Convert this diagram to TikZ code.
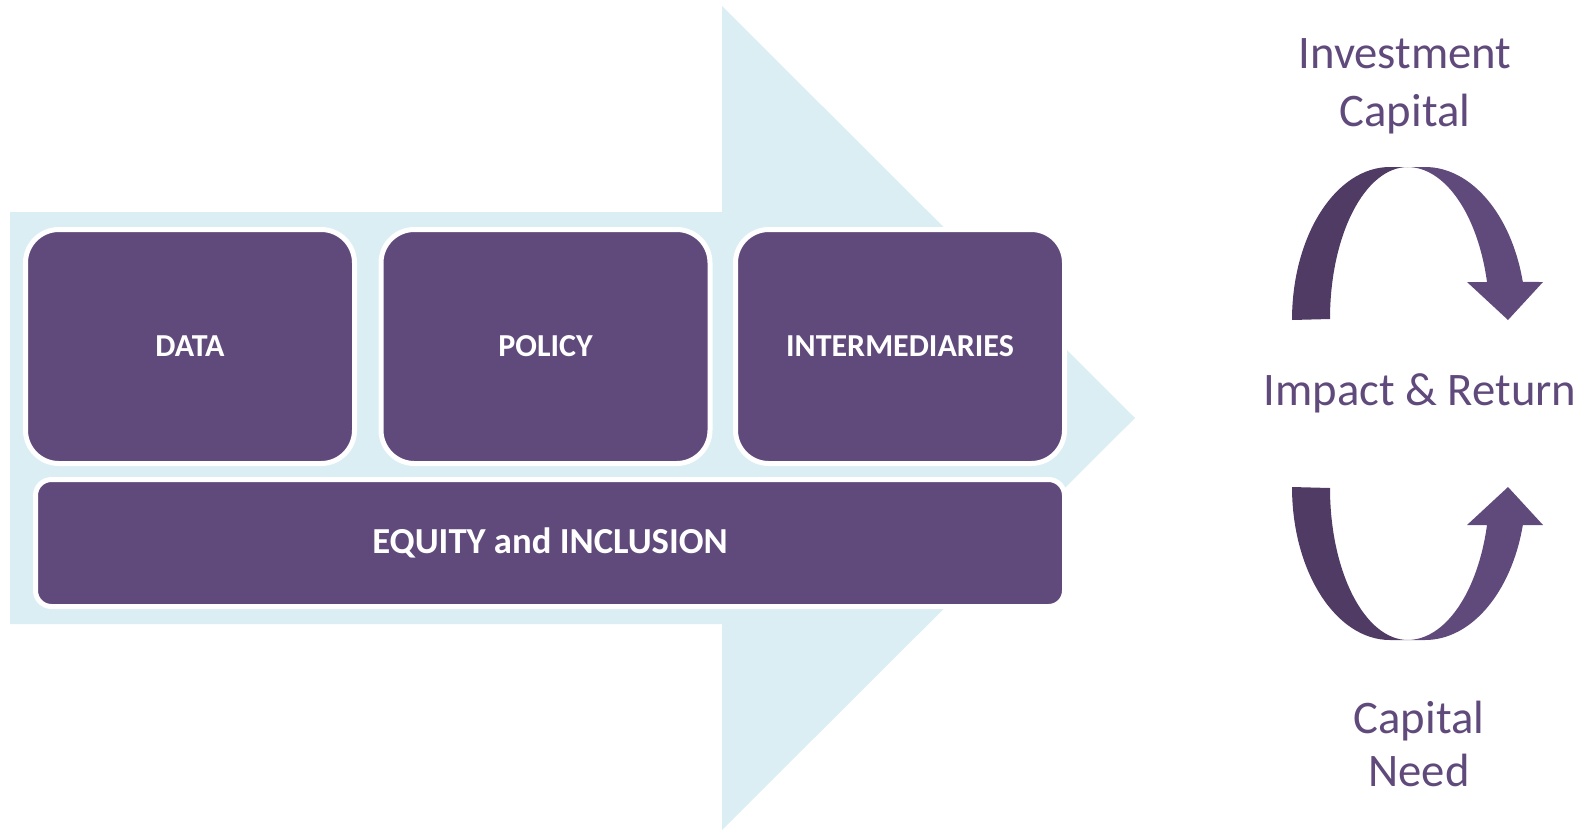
\documentclass[tikz,border=0pt]{standalone}
\usepackage{fontspec}
\setmainfont{Carlito}
\definecolor{lightaqua}{HTML}{DBEEF4}
\definecolor{purp}{HTML}{604A7B}
\definecolor{darkpurp}{HTML}{4F3B64}
\tikzset{
  blockbox/.style={draw=white, line width=3.75pt, fill=purp, rounded corners=25pt,
    text=white, font=\fontsize{24}{29}\selectfont\bfseries, inner sep=0pt},
  widebox/.style={blockbox, rounded corners=12pt, font=\fontsize{27.5}{33}\selectfont\bfseries},
  sidetext/.style={text=purp, font=\fontsize{35}{42}\selectfont, anchor=base, inner sep=0pt},
}
\begin{document}
\begin{tikzpicture}[x=0.75pt, y=-0.75pt]
\useasboundingbox (0,0) rectangle (1591,829);
% big background arrow
\fill[lightaqua] (10,212) -- (722,212) -- (722,6) -- (1135,418) -- (722,830) -- (722,624) -- (10,624) -- cycle;
% blocks
\node[blockbox, minimum width=246.75pt, minimum height=175.5pt] (data) at (190,346.5) {DATA};
\node[blockbox, minimum width=246.75pt, minimum height=175.5pt] (policy) at (545.5,346.5) {POLICY};
\node[blockbox, minimum width=246.75pt, minimum height=175.5pt] (inter) at (900,346.5) {INTERMEDIARIES};
\node[widebox, minimum width=771.75pt, minimum height=95.25pt] (equity) at (550,543) {EQUITY and INCLUSION};
% top curved arrow
\fill[darkpurp] (1292,320) arc[start angle=180, end angle=270, x radius=98, y radius=153]
  -- (1408,167) arc[start angle=270, end angle=180, x radius=78, y radius=152] -- cycle;
\fill[purp] (1408,167) -- (1425,167) arc[start angle=270, end angle=345.6, x radius=101, y radius=153]
  -- (1543,282) -- (1508,320) -- (1467,282) -- (1487,282)
  arc[start angle=345.6, end angle=270, x radius=82, y radius=153] -- cycle;
% bottom curved arrow
\fill[darkpurp] (1292,487) arc[start angle=180, end angle=90, x radius=98, y radius=153]
  -- (1408,640) arc[start angle=90, end angle=180, x radius=78, y radius=152] -- cycle;
\fill[purp] (1408,640) -- (1425,640) arc[start angle=90, end angle=14.4, x radius=101, y radius=153]
  -- (1543,525) -- (1508,487) -- (1467,525) -- (1487,525)
  arc[start angle=14.4, end angle=90, x radius=82, y radius=153] -- cycle;
% side texts
\node[sidetext] (inv1) at (1405,68) {Investment};
\node[sidetext] (inv2) at (1405,126) {Capital};
\node[sidetext] (impact) at (1420,405) {Impact \& Return};
\node[sidetext] (need1) at (1419,733) {Capital};
\node[sidetext] (need2) at (1419,786) {Need};
\end{tikzpicture}
\end{document}
